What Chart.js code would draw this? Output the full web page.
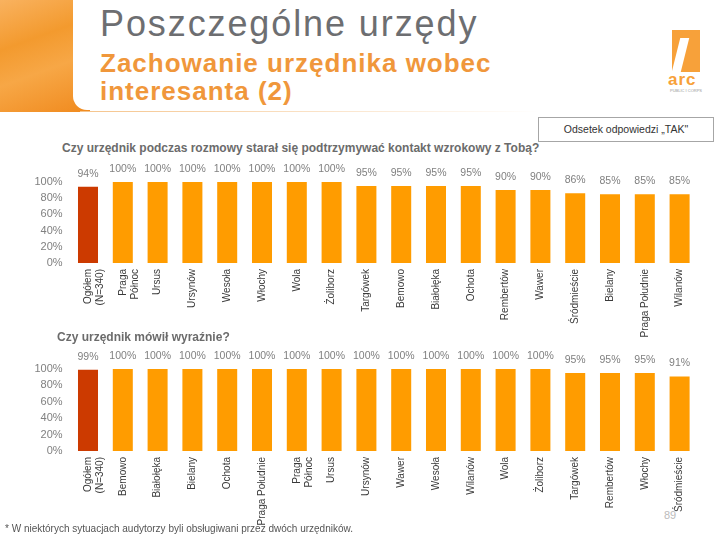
<!DOCTYPE html>
<html>
<head>
<meta charset="utf-8">
<script src="https://cdn.jsdelivr.net/npm/chart.js@4"></script>
<style>
  body { margin:0; width:720px; height:540px; position:relative; overflow:hidden; background:#fff; font-family:"Liberation Sans", Arial, sans-serif; }
  .abs { position:absolute; }
  #deco { left:0; top:0; width:90px; height:112px; background:linear-gradient(160deg,#f9b25f 0%,#f39a2e 35%,#f7a746 60%,#f08a1e 100%); }
  #panel { left:73px; top:-20px; width:660px; height:130px; background:#fff; border-bottom-left-radius:14px; }
  #rule { left:80px; top:111px; width:460px; height:1px; background:linear-gradient(90deg,#f5c48c,rgba(245,196,140,0)); }
  #title { left:100px; top:6px; font-size:36px; line-height:36px; color:#6d6e71; white-space:nowrap; letter-spacing:1.9px; }
  #sub { left:100px; top:49px; font-size:26px; line-height:28px; font-weight:bold; color:#f0973b; letter-spacing:1px; white-space:nowrap; }
  #logo { left:672px; top:30px; width:28px; height:42px; background:#f7a13a; }
  #logo:after { content:""; position:absolute; left:4px; top:8px; width:9px; height:34px; background:#fff; transform:skewX(-14deg); }
  #arc { left:668px; top:70px; font-size:17px; font-weight:bold; color:#f7a13a; letter-spacing:1px; }
  #arc2 { left:670px; top:88px; font-size:4px; color:#999; }
  #box { left:538px; top:117px; width:174px; height:23px; border:1px solid #a6a6a6; font-size:10.5px; color:#333; text-align:center; line-height:23px; }
  .ctitle { font-size:12px; font-weight:bold; color:#6b6b6b; white-space:nowrap; }
  #t1 { left:62px; top:141px; }
  #t2 { left:57px; top:330px; }
  #note { left:5px; top:523px; font-size:10px; color:#555; white-space:nowrap; }
  #page { left:664px; top:509px; font-size:11px; color:#bbb; }
  canvas { position:absolute; left:0; }
</style>
</head>
<body>
<div id="deco" class="abs"></div>
<div id="panel" class="abs"></div>
<div id="rule" class="abs"></div>
<div id="title" class="abs">Poszczególne urzędy</div>
<div id="sub" class="abs">Zachowanie urzędnika wobec<br>interesanta (2)</div>
<div id="logo" class="abs"></div>
<div id="arc" class="abs">arc</div>
<div id="arc2" class="abs">PUBLIC I CORPS</div>
<div id="box" class="abs">Odsetek odpowiedzi „TAK"</div>
<div id="page" class="abs">89</div>

<canvas id="chart1" width="720" height="190" style="top:160px"></canvas>
<canvas id="chart2" width="720" height="190" style="top:350px"></canvas>

<div id="t1" class="abs ctitle">Czy urzędnik podczas rozmowy starał się podtrzymywać kontakt wzrokowy z Tobą?</div>
<div id="t2" class="abs ctitle">Czy urzędnik mówił wyraźnie?</div>
<div id="note" class="abs">* W niektórych sytuacjach audytorzy byli obsługiwani przez dwóch urzędników.</div>

<script>
// kontakt wzrokowy
var labels1 = [["Ogółem","(N=340)"], ["Praga","Północ"], "Ursus", "Ursynów", "Wesoła", "Włochy", "Wola", "Żoliborz",
  "Targówek", "Bemowo", "Białołęka", "Ochota", "Rembertów", "Wawer", "Śródmieście", "Bielany", "Praga Południe", "Wilanów"];
var values1 = [94, 100, 100, 100, 100, 100, 100, 100, 95, 95, 95, 95, 90, 90, 86, 85, 85, 85];

// mówił wyraźnie
var labels2 = [["Ogółem","(N=340)"], "Bemowo", "Białołęka", "Bielany", "Ochota", "Praga Południe", ["Praga","Północ"], "Ursus",
  "Ursynów", "Wawer", "Wesoła", "Wilanów", "Wola", "Żoliborz", "Targówek", "Rembertów", "Włochy", "Śródmieście"];
var values2 = [99, 100, 100, 100, 100, 100, 100, 100, 100, 100, 100, 100, 100, 100, 95, 95, 95, 91];

var yTicks = [0, 20, 40, 60, 80, 100];

var valueLabels = {
  id: 'valueLabels',
  afterDatasetsDraw: function(chart) {
    var ctx = chart.ctx;
    var meta = chart.getDatasetMeta(0);
    var data = chart.data.datasets[0].data;
    ctx.save();
    ctx.font = '10.5px "Liberation Sans"';
    ctx.fillStyle = '#808080';
    ctx.textAlign = 'center';
    ctx.textBaseline = 'middle';
    meta.data.forEach(function(bar, i) {
      ctx.fillText(data[i] + '%', bar.x, bar.y - 13);
    });
    ctx.restore();
  }
};

function makeChart(id, labels, values, padTop, xHeight) {
  return new Chart(document.getElementById(id), {
    type: 'bar',
    data: {
      labels: labels,
      datasets: [{
        data: values,
        backgroundColor: values.map(function(v, i) { return i === 0 ? '#cc3a00' : '#ff9c00'; }),
        barPercentage: 0.575,
        categoryPercentage: 1
      }]
    },
    options: {
      responsive: false,
      animation: false,
      devicePixelRatio: 1,
      layout: { padding: { top: padTop, right: 23, left: 0, bottom: 0 } },
      plugins: { legend: { display: false }, tooltip: { enabled: false } },
      scales: {
        x: {
          grid: { display: false, drawTicks: false },
          border: { display: false },
          ticks: { minRotation: 90, maxRotation: 90, autoSkip: false, padding: 6,
                   color: '#3a3a3a', font: { family: 'Liberation Sans', size: 10 } },
          afterFit: function(s) { s.height = xHeight; }
        },
        y: {
          min: 0, max: 100,
          grid: { display: false, drawTicks: false },
          border: { display: false },
          afterBuildTicks: function(s) { s.ticks = yTicks.map(function(v) { return { value: v }; }); },
          ticks: { padding: 8, color: '#808080', font: { family: 'Liberation Sans', size: 11 },
                   callback: function(v) { return v + '%'; } },
          afterFit: function(s) { s.width = 70.6; }
        }
      }
    },
    plugins: [valueLabels]
  });
}

makeChart('chart1', labels1, values1, 22, 87);
makeChart('chart2', labels2, values2, 19, 89);
</script>
</body>
</html>
